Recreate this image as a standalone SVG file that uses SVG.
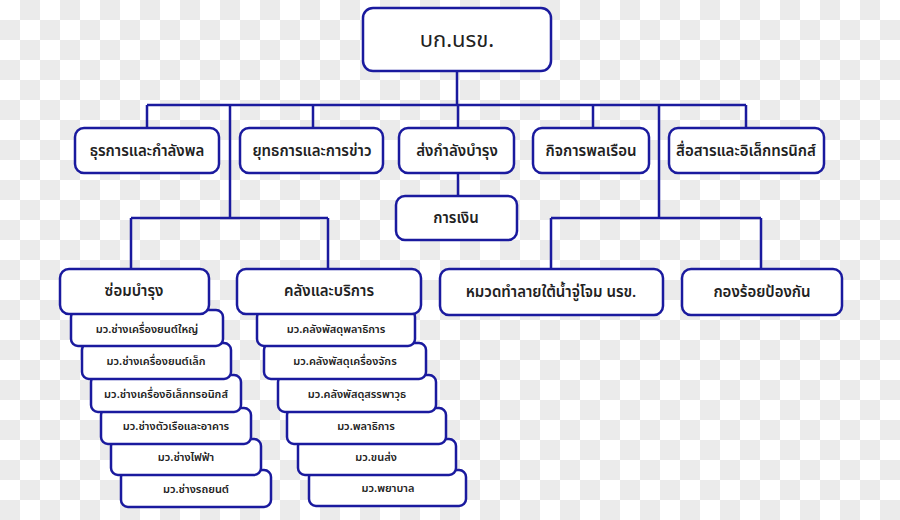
<svg xmlns="http://www.w3.org/2000/svg" width="900" height="520" viewBox="0 0 900 520">
<style>
.b{fill:#fff;stroke:#1a1a9e;stroke-width:2.5}
.c{fill:none;stroke:#1a1a9e;stroke-width:2.5}
text{font-family:"Noto Sans Thai","Noto Sans","DejaVu Sans",sans-serif;fill:#222;text-anchor:middle;dominant-baseline:central}
.t1{font-size:22px}
.t2{font-size:15px;font-weight:600}
.t3{font-size:11px;font-weight:600}
</style>
<defs>
<pattern id="chk" width="40" height="40" patternUnits="userSpaceOnUse">
<rect width="40" height="40" fill="#fff"/>
<rect x="20" y="0" width="20" height="20" fill="#ebebeb"/>
<rect x="0" y="20" width="20" height="20" fill="#ebebeb"/>
</pattern>
</defs>
<rect width="900" height="520" fill="url(#chk)"/>
<g id="connectors" class="c">
<path d="M457 71V105M147 105H746M147 105V128M313 105V128M458 105V128M593 105V128M746 105V128"/>
<path d="M230 105V218M131 218H328M131 218V269M328 218V269"/>
<path d="M458 173V196"/>
<path d="M659 105V218M551 218H761M551 218V269M761 218V269"/>
</g>
<g id="root"><rect class="b" x="363" y="8" width="188" height="63" rx="10"/><text class="t1" x="457" y="40">บก.นรข.</text></g>
<g id="n1"><rect class="b" x="75" y="128" width="144" height="45" rx="9"/><text class="t2" x="147" y="151">ธุรการและกำลังพล</text></g>
<g id="n2"><rect class="b" x="240" y="128" width="143" height="45" rx="9"/><text class="t2" x="312" y="151">ยุทธการและการข่าว</text></g>
<g id="n3"><rect class="b" x="399" y="128" width="115" height="45" rx="9"/><text class="t2" x="457" y="151">ส่งกำลังบำรุง</text></g>
<g id="n4"><rect class="b" x="533" y="128" width="116" height="45" rx="9"/><text class="t2" x="591" y="151">กิจการพลเรือน</text></g>
<g id="n5"><rect class="b" x="669" y="128" width="155" height="45" rx="9"/><text class="t2" x="746" y="151">สื่อสารและอิเล็กทรนิกส์</text></g>
<g id="n6"><rect class="b" x="396" y="196" width="121" height="44" rx="9"/><text class="t2" x="456" y="218">การเงิน</text></g>
<g id="n7"><rect class="b" x="440" y="269" width="223" height="46" rx="9"/><text class="t2" x="551" y="292">หมวดทำลายใต้น้ำจู่โจม นรข.</text></g>
<g id="n8"><rect class="b" x="682" y="269" width="160" height="46" rx="9"/><text class="t2" x="762" y="292">กองร้อยป้องกัน</text></g>
<g id="l6"><rect class="b" x="121" y="470" width="150" height="37" rx="7"/><text class="t3" x="196" y="489">มว.ช่างรถยนต์</text></g>
<g id="l5"><rect class="b" x="111" y="439" width="150" height="36" rx="7"/><text class="t3" x="186" y="457">มว.ช่างไฟฟ้า</text></g>
<g id="l4"><rect class="b" x="101" y="408" width="150" height="36" rx="7"/><text class="t3" x="176" y="426">มว.ช่างตัวเรือและอาคาร</text></g>
<g id="l3"><rect class="b" x="91" y="375" width="150" height="37" rx="7"/><text class="t3" x="166" y="394">มว.ช่างเครื่องอิเล็กทรอนิกส์</text></g>
<g id="l2"><rect class="b" x="82" y="343" width="149" height="36" rx="7"/><text class="t3" x="156" y="361">มว.ช่างเครื่องยนต์เล็ก</text></g>
<g id="l1"><rect class="b" x="71" y="310" width="152" height="36" rx="7"/><text class="t3" x="147" y="329">มว.ช่างเครื่องยนต์ใหญ่</text></g>
<g id="left"><rect class="b" x="60" y="269" width="149" height="45" rx="9"/><text class="t2" x="134" y="291">ซ่อมบำรุง</text></g>
<g id="r6"><rect class="b" x="309" y="470" width="157" height="36" rx="7"/><text class="t3" x="388" y="488">มว.พยาบาล</text></g>
<g id="r5"><rect class="b" x="298" y="439" width="158" height="36" rx="7"/><text class="t3" x="376" y="457">มว.ขนส่ง</text></g>
<g id="r4"><rect class="b" x="287" y="408" width="159" height="36" rx="7"/><text class="t3" x="366" y="426">มว.พลาธิการ</text></g>
<g id="r3"><rect class="b" x="278" y="375" width="158" height="37" rx="7"/><text class="t3" x="357" y="394">มว.คลังพัสดุสรรพาวุธ</text></g>
<g id="r2"><rect class="b" x="264" y="343" width="162" height="36" rx="7"/><text class="t3" x="345" y="361">มว.คลังพัสดุเครื่องจักร</text></g>
<g id="r1"><rect class="b" x="257" y="310" width="158" height="36" rx="7"/><text class="t3" x="336" y="329">มว.คลังพัสดุพลาธิการ</text></g>
<g id="right"><rect class="b" x="237" y="269" width="184" height="45" rx="9"/><text class="t2" x="329" y="291">คลังและบริการ</text></g>
</svg>
